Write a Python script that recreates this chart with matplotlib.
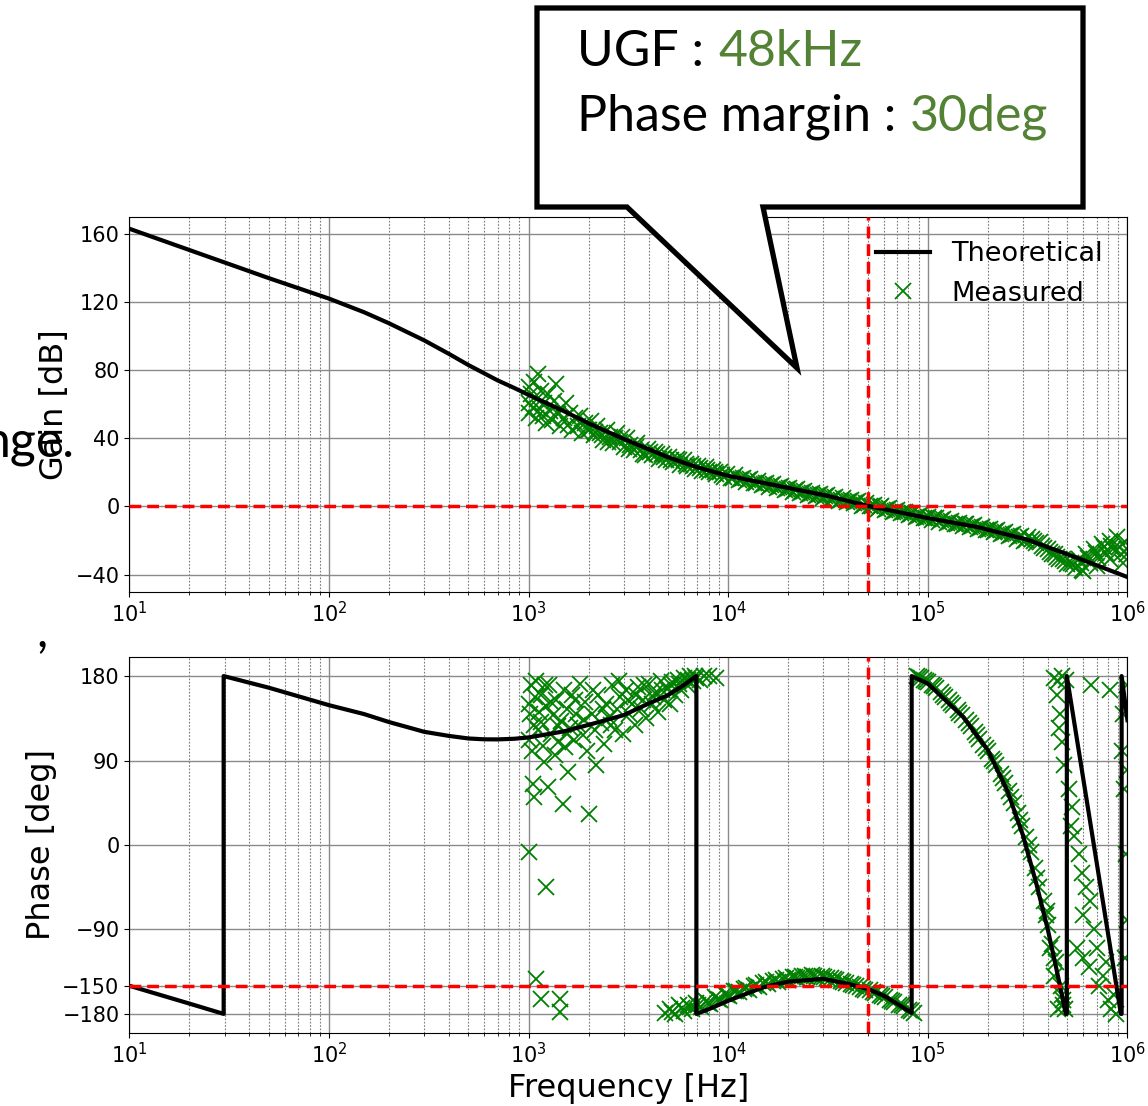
import numpy as np
import matplotlib
matplotlib.use("Agg")
import matplotlib.pyplot as plt
from matplotlib.patches import Polygon

# Open-loop transfer function
# (frequency [Hz], value)
theo_gain = [(10, 163), (20, 150.5), (30, 143.2), (50, 134), (100, 122),
             (150, 114), (200, 107.5), (300, 97.5), (400, 89.5), (500, 83),
             (700, 74), (850, 69.5), (1000, 65.5), (1500, 56), (2000, 48.8),
             (3000, 39.6), (4000, 33.6), (5000, 28.9), (7000, 23),
             (10000, 18), (17800, 12.1), (31600, 6.2), (49000, 0.6),
             (100000, -6.8), (178000, -12.1), (316000, -19.5),
             (562000, -30.2), (1000000, -41.4)]

theo_phase = [(10, -150), (20, -169), (29.7, -180), (29.7, 180), (50, 167.6),
              (100, 149), (150, 139.5), (200, 131), (250, 125.3),
              (300, 120.6), (400, 116.2), (500, 113.5), (600, 112.6),
              (700, 112.5), (850, 113.2), (1000, 114.6), (1500, 121),
              (2000, 128), (3000, 138.4), (4000, 150.8), (5000, 159.7),
              (6000, 170.4), (6930, 180),
              (6930, -180), (8000, -175), (10000, -166), (15000, -151.6),
              (20000, -145.6), (30000, -142.7), (40000, -148),
              (50000, -153.4), (60000, -160.5), (70000, -169),
              (83000, -179), (83000, 180), (100000, 172), (150000, 136.6),
              (200000, 101), (250000, 58), (300000, 10), (350000, -41.6),
              (400000, -91), (450000, -141), (491000, -180), (497000, -180),
              (497000, 180), (927000, -180), (935000, -180), (935000, 180),
              (1000000, 133)]

meas_gain = [
    (1000, 70), (1000, 61), (1010, 55), (1030, 66), (1050, 58), (1070, 73),
    (1090, 52), (1100, 63), (1120, 78), (1140, 57), (1160, 68), (1180, 53),
    (1200, 61), (1230, 49), (1250, 66), (1280, 56), (1310, 51), (1340, 62),
    (1370, 72), (1400, 54), (1430, 47), (1460, 58), (1500, 52), (1540, 61),
    (1580, 48), (1620, 55), (1660, 45), (1710, 52), (1760, 47), (1810, 53),
    (1860, 43), (1920, 49), (1980, 45), (2050, 50), (2120, 42), (2200, 47),
    (2280, 43), (2370, 39), (2460, 45), (2550, 41), (2650, 37), (2760, 43),
    (2870, 38), (2990, 35), (3110, 40), (3240, 36), (3370, 33), (3510, 37),
    (3660, 33), (3810, 30), (3970, 34), (4140, 30), (4310, 32), (4490, 28),
    (4680, 31), (4880, 27), (5080, 29), (5300, 26), (5520, 28), (5750, 24.5),
    (6000, 27), (6250, 23.5), (6520, 25), (6800, 22), (7100, 24), (7400, 21),
    (7700, 23), (8030, 20), (8380, 21.5), (8740, 19), (9110, 20.5),
    (9500, 17.5), (9900, 19),
    (2020, 45), (2160, 44), (2330, 42), (2500, 38), (2700, 40), (2930, 41),
    (3170, 34), (3440, 35), (3730, 31), (4050, 32), (4400, 31), (4780, 29),
    (5190, 27), (5640, 27), (6120, 25), (6650, 24), (7250, 22.5),
    (7870, 21.5), (8550, 20), (9300, 18.5),
    (10300, 16.5), (10800, 18.5), (11300, 15.5), (11800, 17), (12300, 14.5),
    (12900, 16), (13500, 13.5), (14100, 15), (14700, 12.5), (15400, 14),
    (16100, 11.5), (16800, 13), (17600, 11), (18400, 12), (19200, 9.5),
    (20100, 11), (21000, 8.5), (22000, 10), (23000, 8), (24000, 9),
    (25100, 6.5), (26300, 8), (27500, 6), (28700, 7.5), (30000, 5),
    (31400, 6.5), (32800, 4.5), (34300, 5.5), (35900, 3.5), (37500, 5),
    (39200, 2.5), (41000, 4), (42900, 2), (44800, 3), (46900, 0.5), (49000, 2),
    (51300, 0), (53600, 1), (56000, -1.5), (58600, 0), (61300, -2),
    (64100, -1), (67000, -3.5), (70100, -2), (73300, -4), (76600, -3),
    (80100, -5), (83800, -4), (87600, -6), (91600, -5), (95800, -7),
    (100000, -6),
    (10550, 17), (11550, 16), (12600, 15.5), (13800, 14), (15050, 13),
    (16450, 12.5), (17950, 11.5), (19650, 10.5), (21500, 9.5), (23500, 8.5),
    (25700, 7.5), (28100, 6.5), (30700, 6), (33500, 5), (36700, 4),
    (40100, 3), (43800, 2.5), (47900, 1), (52400, 0.5), (57300, -0.5),
    (62700, -1.5), (68500, -2.5), (74900, -3.5), (81900, -4.5), (89600, -5.5),
    (97900, -6.5),
    (104600, -8), (109300, -6.5), (114300, -9), (119500, -7.5), (125000, -9.5),
    (130700, -8.5), (136700, -10.5), (142900, -9.5), (149400, -11.5),
    (156200, -10), (163300, -12), (170800, -11), (178600, -13), (186700, -12),
    (195200, -14), (204100, -13), (213400, -15), (223100, -14), (233300, -16),
    (243900, -15), (255100, -17.5), (266700, -16), (278900, -19),
    (291600, -17.5), (304900, -20), (318800, -18),
    (107000, -7), (117000, -8), (128000, -9), (140000, -10), (153000, -10.5),
    (167000, -11.5), (182500, -12.5), (199500, -13.5), (218000, -14.5),
    (238500, -15.5), (260700, -16.5), (285000, -18), (311000, -19.5),
    (340000, -20),
    (333300, -19), (348500, -21.5), (364400, -21), (381000, -24.5),
    (398400, -25), (416600, -28), (435600, -28), (455400, -31), (476200, -31),
    (497900, -34), (520600, -33), (544300, -36), (569100, -31), (595100, -37),
    (622200, -28), (650600, -33), (680300, -25), (711300, -30), (743800, -22),
    (777700, -27), (813100, -20), (850200, -25), (889000, -18), (929500, -28),
    (971900, -21), (1000000, -25), (600000, -38), (700000, -35),
    (820000, -31), (950000, -33),
    (372000, -23), (407000, -26.5), (445000, -29.5), (487000, -32),
    (532000, -34), (582000, -33), (636000, -30), (695000, -27), (760000, -24),
    (831000, -23), (909000, -24), (990000, -28)]

meas_phase = [
    # 1 kHz - 8 kHz, noisy branch
    (1000, 150), (1000, 112), (1010, -7), (1030, 170), (1040, 100), (1050, 65),
    (1060, 128), (1070, 51), (1090, 175), (1090, -143), (1110, 122),
    (1130, 142), (1160, -164), (1160, 160), (1180, 105), (1200, 88),
    (1220, -45), (1230, 148), (1250, 62), (1270, 170), (1290, 118),
    (1320, 138), (1350, 96), (1380, 155), (1410, 110), (1430, -164),
    (1440, -178), (1460, 132), (1490, 44), (1500, 165), (1530, 104),
    (1560, 145), (1580, 78), (1610, 125), (1650, 160), (1690, 112),
    (1730, 140), (1770, 128), (1820, 172), (1870, 117), (1920, 152),
    (1970, 100), (2020, 33), (2080, 140), (2140, 122), (2180, 85), (2240, 160),
    (2310, 130), (2380, 108), (2450, 150), (2530, 135), (2610, 170),
    (2700, 122), (2790, 145), (2880, 158), (2980, 118), (3080, 165),
    (3180, 140), (3290, 150), (3400, 128), (3520, 168), (3640, 145),
    (3760, 155), (3890, 135), (4020, 172), (4160, 150), (4300, 162),
    (4450, 142), (4600, 175), (4760, 155), (4920, 166), (5090, 150),
    (5260, 174), (5440, 160), (5630, 176), (5820, 165), (6020, 178),
    (6230, 170), (6440, 180), (6660, 175), (6900, 178), (7200, 176),
    (7600, 180), (8000, 180), (8700, 178),
    (1020, 140), (1080, 158), (1150, 131), (1210, 170), (1300, 152),
    (1400, 127), (1550, 118), (1700, 155), (1900, 133), (2100, 165),
    (2350, 145), (2600, 128), (2850, 175), (3150, 155), (3450, 160),
    (3800, 170), (4200, 158), (4650, 165), (5150, 170), (5700, 172),
    (6300, 176), (6800, 180),
    # 5 kHz - 85 kHz
    (4800, -179), (5100, -175), (5400, -180), (5700, -171), (6000, -177),
    (6300, -170), (6600, -175), (6900, -168), (7300, -173), (7700, -166),
    (8100, -169), (8600, -162), (9100, -165), (9600, -159), (10100, -161),
    (10700, -156), (11300, -157), (12000, -153), (12700, -154), (13400, -150),
    (14200, -151), (15000, -147), (15900, -148), (16800, -145), (17800, -146),
    (18800, -143), (19900, -144), (21000, -141), (22200, -142), (23500, -140),
    (24900, -141), (26300, -139), (27800, -141), (29400, -140), (31100, -142),
    (32900, -142), (34800, -144), (36800, -145), (38900, -147), (41100, -148),
    (43500, -150), (46000, -151), (48600, -154), (51400, -155), (54400, -158),
    (57500, -160), (60800, -162), (64300, -165), (68000, -167), (71900, -170),
    (76000, -172), (80400, -176), (85000, -179),
    (5250, -178), (5850, -174), (6450, -173), (7100, -171), (7900, -168),
    (8900, -164), (9900, -160), (11000, -156), (12300, -152), (13800, -149),
    (15500, -146), (17300, -144), (19400, -142), (21600, -141), (24200, -140),
    (27000, -140), (30200, -141), (33800, -143), (37800, -146), (42300, -149),
    (47300, -153), (52900, -157), (59100, -161), (66100, -166), (73900, -171),
    (82700, -177),
    # 85 kHz - 500 kHz
    (88000, 180), (92000, 178), (96000, 176), (100000, 174), (105000, 171),
    (110000, 167), (116000, 163), (122000, 158), (128000, 154), (134000, 149),
    (141000, 144), (148000, 139), (156000, 133), (164000, 127), (172000, 120),
    (181000, 113), (190000, 107), (200000, 100), (210000, 92), (220000, 85),
    (232000, 76), (244000, 66), (256000, 57), (269000, 45), (282000, 34),
    (297000, 20), (312000, 8), (328000, -8), (344000, -25), (362000, -45),
    (380000, -60), (400000, -85), (420000, -105), (441000, -125),
    (464000, -150), (475000, -165), (487000, -175), (450000, -175),
    (470000, -160), (395000, -70), (410000, -110), (430000, -140),
    (90000, 179), (98000, 175), (107000, 169), (119000, 160), (131000, 151),
    (144000, 141), (160000, 130), (176000, 117), (195000, 103), (215000, 89),
    (238000, 71), (262000, 51), (289000, 27), (320000, 0), (353000, -35),
    (390000, -75), (430000, -120), (478000, -170),
    # 450 kHz - 1 MHz, noisy
    (430000, 178), (450000, 175), (470000, 180), (490000, 176), (445000, 160),
    (460000, 140), (455000, 125), (470000, 110), (480000, 85), (510000, 60),
    (530000, 40), (520000, 20), (540000, 10), (570000, -10), (590000, -30),
    (620000, -45), (600000, -75), (650000, -60), (680000, -90), (560000, -110),
    (600000, -120), (640000, -130), (700000, -110), (750000, -140),
    (780000, -125), (720000, -150), (800000, -165), (830000, -175),
    (860000, -160), (880000, -180), (660000, 170), (820000, 165),
    (950000, 140), (960000, 60), (940000, 100), (980000, -10), (990000, 80),
    (970000, -120), (1000000, 170), (1000000, -80)]

ugf_freq = 5e4        # vertical marker
pm_phase = -150       # phase margin marker
ugf_label = "48kHz"
pm_label = "30deg"

W, H = 1148, 1106
fig = plt.figure(figsize=(W / 100, H / 100), dpi=100)


def fpos(x, y):
    # pixel position (from top left) -> figure fraction
    return x / W, 1 - y / H


ax1 = fig.add_axes([0.1126, 0.465, 0.8695, 0.339])
ax2 = fig.add_axes([0.1126, 0.0663, 0.8695, 0.3394])

tg = np.array(theo_gain)
tp = np.array(theo_phase)
mg = np.array(meas_gain)
mp = np.array(meas_phase)

mk = dict(ls='none', marker='x', color='g', ms=12, mew=1.3)
m1, = ax1.semilogx(mg[:, 0], mg[:, 1], label='Measured', **mk)
t1, = ax1.semilogx(tg[:, 0], tg[:, 1], 'k-', lw=3, label='Theoretical')
ax2.semilogx(mp[:, 0], mp[:, 1], **mk)
ax2.semilogx(tp[:, 0], tp[:, 1], 'k-', lw=3)

red = dict(color='r', ls='--', lw=2.5, dashes=(3.4, 1.7), zorder=5)
ax1.axhline(0, **red)
ax1.axvline(ugf_freq, **red)
ax2.axhline(pm_phase, **red)
ax2.axvline(ugf_freq, **red)

ax1.set_ylim(-50, 170)
ax1.set_yticks([-40, 0, 40, 80, 120, 160])
ax2.set_ylim(-200, 200)
ax2.set_yticks([-180, -150, -90, 0, 90, 180])

for ax in (ax1, ax2):
    ax.set_xlim(10, 1e6)
    ax.grid(which='major', color='#8a8a8a', ls='-', lw=1)
    ax.grid(which='minor', color='#7a7a7a', ls=(0, (1.5, 1.5)), lw=0.8)
    ax.tick_params(labelsize=15)

ax1.set_ylabel('Gain [dB]', fontsize=23)
ax2.set_ylabel('Phase [deg]', fontsize=23)
ax2.set_xlabel('Frequency [Hz]', fontsize=23)
ax1.legend([t1, m1], ['Theoretical', 'Measured'], loc='upper right',
           frameon=False, fontsize=19.5)

# callout box from the slide
box = [(537, 8), (1083, 8), (1083, 207), (763, 207), (797, 368),
       (627, 207), (537, 207)]
fig.add_artist(Polygon([fpos(*p) for p in box], closed=True,
                       transform=fig.transFigure, fc='white', ec='black',
                       lw=3.8, joinstyle='miter', zorder=10))

green = '#548235'
tf = dict(fontsize=36, family='Lato', va='baseline', zorder=11)
r = fig.canvas.get_renderer()
a = fig.text(*fpos(577, 66), "UGF :", color='black', **tf)
x = a.get_window_extent(r).x1 + 14
fig.text(x / W, 1 - 66 / H, ugf_label, color=green, **tf)
b = fig.text(*fpos(577, 131), "Phase margin :", color='black', **tf)
x = b.get_window_extent(r).x1 + 14
fig.text(x / W, 1 - 131 / H, pm_label, color=green, **tf)

# bits of slide text left visible behind the figure
fig.text(*fpos(-17, 457), "nge.", fontsize=36, family='Lato', va='baseline')
fig.text(*fpos(36, 646), ",", fontsize=36, family='Lato', va='baseline')

fig.savefig('out.png', dpi=100)
